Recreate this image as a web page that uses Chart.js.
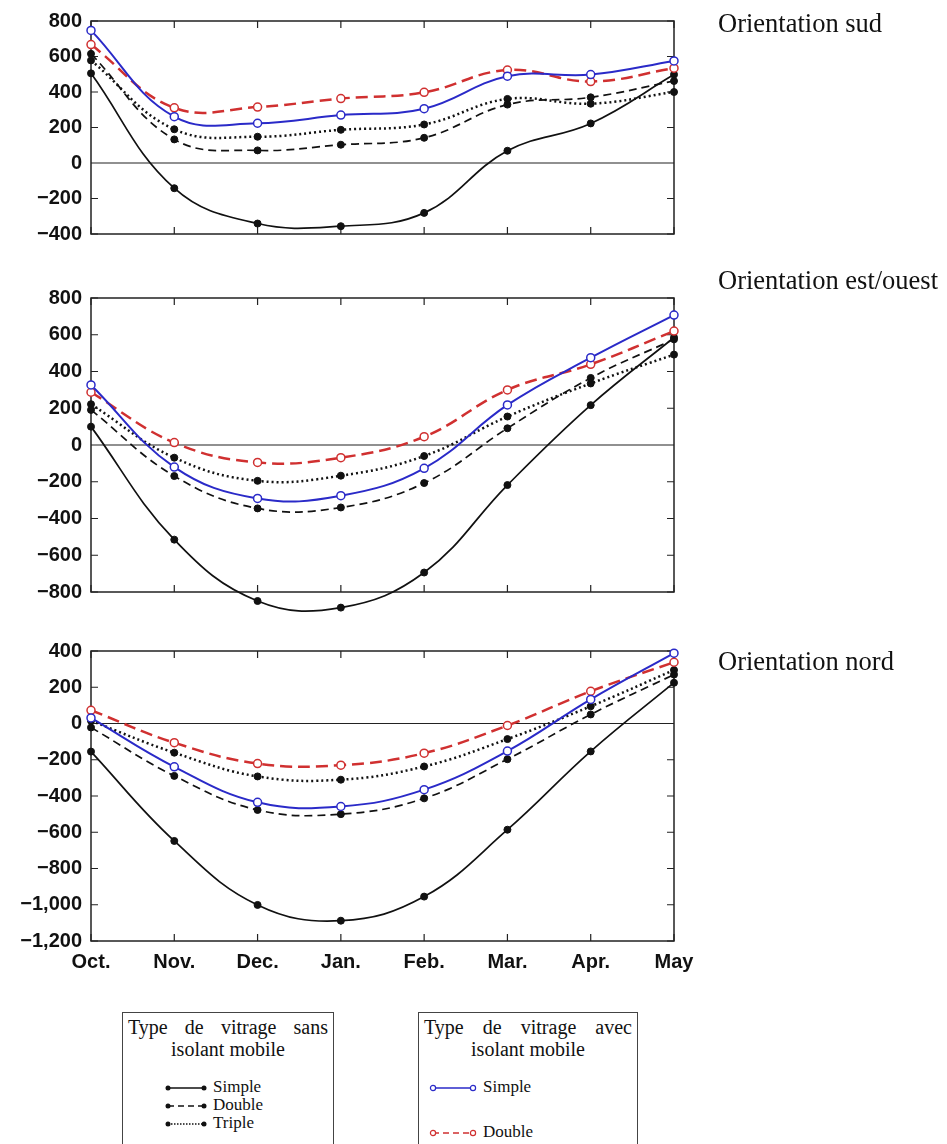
<!DOCTYPE html>
<html>
<head>
<meta charset="utf-8">
<script src="https://cdn.jsdelivr.net/npm/chart.js@4"></script>
<style>
  body { margin: 0; background: #fff; width: 947px; height: 1144px; overflow: hidden; position: relative; }
  canvas { position: absolute; left: 0; }
  .title { position: absolute; left: 718px; font-family: "Liberation Serif", serif; font-size: 26.5px; color: #111; white-space: nowrap; }
  .box { position: absolute; top: 1012px; height: 150px; border: 1.5px solid #444; font-family: "Liberation Serif", serif; color: #111; }
  .head1 { display: flex; justify-content: space-between; margin: 3px 5px 0 5px; line-height: 22px; font-size: 20px; }
  .head2 { text-align: center; line-height: 22px; font-size: 20px; }
  .row { position: absolute; height: 18px; line-height: 18px; white-space: nowrap; font-size: 17px; }
  .row svg { vertical-align: middle; margin-right: 6px; }
</style>
</head>
<body>

<canvas id="sud" width="720" height="255" style="top:0px"></canvas>
<canvas id="est" width="720" height="345" style="top:270px"></canvas>
<canvas id="nord" width="720" height="350" style="top:630px"></canvas>

<div class="title" style="top:8px">Orientation sud</div>
<div class="title" style="top:265px">Orientation est/ouest</div>
<div class="title" style="top:646px">Orientation nord</div>

<div class="box" style="left:122px; width:210px">
  <div class="head1"><span>Type</span><span>de</span><span>vitrage</span><span>sans</span></div>
  <div class="head2">isolant mobile</div>
  <div class="row" style="left:42px; top:65px"><svg width="42" height="10"><line x1="3" y1="5" x2="39" y2="5" stroke="#111" stroke-width="1.5"/><circle cx="3" cy="5" r="2.5" fill="#111"/><circle cx="39" cy="5" r="2.5" fill="#111"/></svg>Simple</div>
  <div class="row" style="left:42px; top:83px"><svg width="42" height="10"><line x1="3" y1="5" x2="39" y2="5" stroke="#111" stroke-width="1.5" stroke-dasharray="6,4"/><circle cx="3" cy="5" r="2.5" fill="#111"/><circle cx="39" cy="5" r="2.5" fill="#111"/></svg>Double</div>
  <div class="row" style="left:42px; top:101px"><svg width="42" height="10"><line x1="3" y1="5" x2="39" y2="5" stroke="#111" stroke-width="1.5" stroke-dasharray="1.5,1.5"/><circle cx="3" cy="5" r="2.5" fill="#111"/><circle cx="39" cy="5" r="2.5" fill="#111"/></svg>Triple</div>
</div>

<div class="box" style="left:418px; width:218px">
  <div class="head1"><span>Type</span><span>de</span><span>vitrage</span><span>avec</span></div>
  <div class="head2">isolant mobile</div>
  <div class="row" style="left:10px; top:65px"><svg width="48" height="10"><line x1="4" y1="5" x2="44" y2="5" stroke="#2a2ac8" stroke-width="1.6"/><circle cx="4" cy="5" r="2.6" fill="#fff" stroke="#2a2ac8" stroke-width="1.2"/><circle cx="44" cy="5" r="2.6" fill="#fff" stroke="#2a2ac8" stroke-width="1.2"/></svg>Simple</div>
  <div class="row" style="left:10px; top:110px"><svg width="48" height="10"><line x1="4" y1="5" x2="44" y2="5" stroke="#d03030" stroke-width="1.6" stroke-dasharray="6,4"/><circle cx="4" cy="5" r="2.6" fill="#fff" stroke="#d03030" stroke-width="1.2"/><circle cx="44" cy="5" r="2.6" fill="#fff" stroke="#d03030" stroke-width="1.2"/></svg>Double</div>
</div>

<script>
// months on the x axis
const months = ['Oct.', 'Nov.', 'Dec.', 'Jan.', 'Feb.', 'Mar.', 'Apr.', 'May'];

// Orientation sud
const sudSimple    = [505, -142, -341, -356, -281, 69, 223, 498];
const sudDouble    = [615, 133, 71, 103, 142, 329, 370, 462];
const sudTriple    = [578, 190, 148, 187, 217, 361, 334, 400];
const sudSimpleIso = [747, 261, 224, 270, 306, 489, 498, 575];
const sudDoubleIso = [667, 311, 315, 363, 398, 524, 459, 534];
const sudRange = [-400, 800];

// Orientation est/ouest
const estSimple    = [100, -515, -849, -885, -694, -218, 217, 585];
const estDouble    = [191, -169, -345, -340, -207, 91, 365, 575];
const estTriple    = [222, -69, -195, -167, -60, 155, 335, 492];
const estSimpleIso = [327, -120, -291, -276, -127, 218, 475, 707];
const estDoubleIso = [287, 13, -95, -69, 45, 300, 439, 620];
const estRange = [-800, 800];

// Orientation nord
const nordSimple    = [-155, -648, -1001, -1088, -955, -586, -154, 225];
const nordDouble    = [-22, -289, -477, -500, -413, -197, 50, 270];
const nordTriple    = [15, -161, -292, -310, -237, -86, 95, 295];
const nordSimpleIso = [31, -239, -435, -458, -365, -152, 133, 388];
const nordDoubleIso = [73, -106, -221, -230, -164, -11, 178, 338];
const nordRange = [-1200, 400];

const BLUE = '#2a2ac8';
const RED = '#d03030';
const INK = '#111';

const styles = {
    simple: { borderColor: INK, borderWidth: 1.7, pointBackgroundColor: INK, pointBorderColor: INK, pointRadius: 3.5, pointBorderWidth: 1 },
    double: { borderColor: INK, borderWidth: 1.7, borderDash: [8, 5], pointBackgroundColor: INK, pointBorderColor: INK, pointRadius: 3.5, pointBorderWidth: 1 },
    triple: { borderColor: INK, borderWidth: 2.5, borderDash: [2, 3], pointBackgroundColor: INK, pointBorderColor: INK, pointRadius: 3.5, pointBorderWidth: 1 },
    simpleIso: { borderColor: BLUE, borderWidth: 2, pointBackgroundColor: '#fff', pointBorderColor: BLUE, pointRadius: 4, pointBorderWidth: 1.5 },
    doubleIso: { borderColor: RED, borderWidth: 2.5, borderDash: [12, 6], pointBackgroundColor: '#fff', pointBorderColor: RED, pointRadius: 4, pointBorderWidth: 1.5 }
};

function series(label, data, kind) {
    return Object.assign({ label: label, data: data, tension: 0.4, clip: false, fill: false }, styles[kind]);
}

// frame, inward ticks and zero line; points may sit outside the box (est/ouest)
const framePlugin = {
    id: 'frame',
    beforeDatasetsDraw(chart) {
        const ctx = chart.ctx;
        const a = chart.chartArea;
        const x = chart.scales.x;
        const y = chart.scales.y;
        ctx.save();
        ctx.strokeStyle = '#222';
        ctx.lineWidth = 1.5;
        ctx.strokeRect(a.left, a.top, a.right - a.left, a.bottom - a.top);
        ctx.lineWidth = 1.2;
        ctx.beginPath();
        y.ticks.forEach(t => {
            const py = y.getPixelForValue(t.value);
            ctx.moveTo(a.left, py); ctx.lineTo(a.left + 7, py);
            ctx.moveTo(a.right, py); ctx.lineTo(a.right - 7, py);
        });
        x.ticks.forEach((t, i) => {
            const px = x.getPixelForTick(i);
            ctx.moveTo(px, a.top); ctx.lineTo(px, a.top + 7);
            ctx.moveTo(px, a.bottom); ctx.lineTo(px, a.bottom - 7);
        });
        const p0 = y.getPixelForValue(0);
        ctx.moveTo(a.left, p0); ctx.lineTo(a.right, p0);
        ctx.stroke();
        ctx.restore();
        // let the point markers below the box be drawn too
        chart.$area = a;
        chart.chartArea = { left: a.left - 30, top: a.top - 30, right: a.right + 30, bottom: a.bottom + 30,
                            width: a.width + 60, height: a.height + 60 };
    },
    afterDatasetsDraw(chart) {
        if (chart.$area) {
            chart.chartArea = chart.$area;
            chart.$area = null;
        }
    }
};

function fmt(v) {
    const s = Math.abs(v).toLocaleString('en-US');
    return v < 0 ? '\u2212' + s : s;
}

function makeChart(id, sets, range, padTop, padBottom, showMonths) {
    const ctx = document.getElementById(id).getContext('2d');
    return new Chart(ctx, {
        type: 'line',
        data: {
            labels: months,
            datasets: [
                series('Simple (avec isolant)', sets[3], 'simpleIso'),
                series('Double (avec isolant)', sets[4], 'doubleIso'),
                series('Simple', sets[0], 'simple'),
                series('Double', sets[1], 'double'),
                series('Triple', sets[2], 'triple')
            ]
        },
        options: {
            responsive: false,
            animation: false,
            layout: { padding: { top: padTop, bottom: padBottom, left: 0, right: 46 } },
            plugins: { legend: { display: false }, tooltip: { enabled: false } },
            scales: {
                x: {
                    grid: { display: false, drawTicks: false },
                    border: { display: false },
                    ticks: {
                        display: showMonths,
                        color: INK,
                        padding: 9,
                        maxRotation: 0,
                        font: { family: '"Liberation Sans", Arial, sans-serif', size: 20, weight: 'bold' }
                    },
                    afterFit(scale) { scale.height = showMonths ? 39 : 0; }
                },
                y: {
                    min: range[0],
                    max: range[1],
                    grid: { display: false, drawTicks: false },
                    border: { display: false },
                    ticks: {
                        stepSize: 200,
                        color: INK,
                        padding: 9,
                        callback: v => fmt(v),
                        font: { family: '"Liberation Sans", Arial, sans-serif', size: 20, weight: 'bold' }
                    },
                    afterFit(scale) { scale.width = 91; }
                }
            }
        },
        plugins: [framePlugin]
    });
}

makeChart('sud', [sudSimple, sudDouble, sudTriple, sudSimpleIso, sudDoubleIso], sudRange, 17, 14, false);
makeChart('est', [estSimple, estDouble, estTriple, estSimpleIso, estDoubleIso], estRange, 28, 23, false);
makeChart('nord', [nordSimple, nordDouble, nordTriple, nordSimpleIso, nordDoubleIso], nordRange, 19, 0, true);
</script>
</body>
</html>
